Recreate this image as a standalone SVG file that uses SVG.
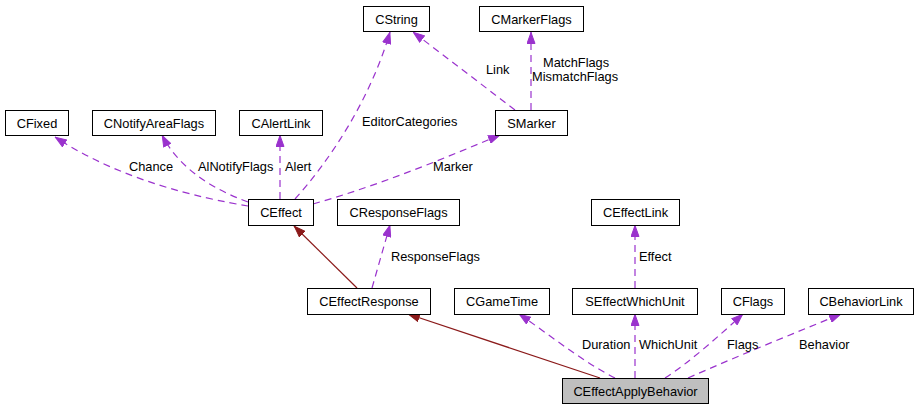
<svg xmlns="http://www.w3.org/2000/svg" width="918" height="409" viewBox="0 0 918 409">
<style>
text{font-family:"Liberation Sans",Arial,sans-serif;font-size:12.8px;fill:#000}
.n rect{fill:#fff;stroke:#000;stroke-width:1}
.n text{text-anchor:middle}
.root rect{fill:#bfbfbf}
.u{fill:none;stroke:#9a32cd;stroke-width:1.2;stroke-dasharray:7,5;marker-end:url(#pa)}
.i{fill:none;stroke:#8b1a1a;stroke-width:1.2;marker-end:url(#ra)}
</style>
<defs>
<marker id="pa" viewBox="0 0 12 9" refX="12" refY="4.5" markerWidth="12" markerHeight="9" markerUnits="userSpaceOnUse" orient="auto"><path d="M0.5,0.5 L11.5,4.5 L0.5,8.5 z" fill="#9a32cd" stroke="#9a32cd"/></marker>
<marker id="ra" viewBox="0 0 12 9" refX="12" refY="4.5" markerWidth="12" markerHeight="9" markerUnits="userSpaceOnUse" orient="auto"><path d="M0.5,0.5 L11.5,4.5 L0.5,8.5 z" fill="#8b1a1a" stroke="#8b1a1a"/></marker>
</defs>
<rect width="918" height="409" fill="#fff"/>
<g id="edges">
<path class="u" d="M248,206 C200,198 120,180 55,137"/>
<path class="u" d="M248,202 C215,190 180,170 162,135"/>
<path class="u" d="M280,199 L280,135"/>
<path class="u" d="M295,199 C330,160 370,100 390,32"/>
<path class="u" d="M313,204 C380,185 440,160 500,135"/>
<path class="u" d="M515,110 L413,32"/>
<path class="u" d="M531,110 L531,32"/>
<path class="u" d="M372,288 L390,225"/>
<path class="i" d="M357,288 L294,226"/>
<path class="i" d="M600,378 L408,314"/>
<path class="u" d="M615,378 C580,360 550,335 519,314"/>
<path class="u" d="M635,378 L635,314"/>
<path class="u" d="M635,288 L635,225"/>
<path class="u" d="M665,378 C690,362 720,335 743,314"/>
<path class="u" d="M688,378 C740,355 790,335 841,314"/>
<text x="129" y="171">Chance</text>
<text x="198" y="171">AlNotifyFlags</text>
<text x="285" y="171">Alert</text>
<text x="362" y="126">EditorCategories</text>
<text x="433" y="171">Marker</text>
<text x="486" y="74">Link</text>
<text x="543" y="67">MatchFlags</text>
<text x="532" y="81">MismatchFlags</text>
<text x="391" y="261">ResponseFlags</text>
<text x="639" y="261">Effect</text>
<text x="582" y="349">Duration</text>
<text x="639" y="349">WhichUnit</text>
<text x="727" y="349">Flags</text>
<text x="799" y="349">Behavior</text>
</g>
<g id="CString" class="n"><rect x="363.5" y="6.5" width="66" height="25"/><text x="396.5" y="23.5">CString</text></g>
<g id="CMarkerFlags" class="n"><rect x="479.5" y="6.5" width="104" height="25"/><text x="531.5" y="23.5">CMarkerFlags</text></g>
<g id="CFixed" class="n"><rect x="5.5" y="110.5" width="63" height="25"/><text x="37" y="127.5">CFixed</text></g>
<g id="CNotifyAreaFlags" class="n"><rect x="92.5" y="110.5" width="123" height="25"/><text x="154" y="127.5">CNotifyAreaFlags</text></g>
<g id="CAlertLink" class="n"><rect x="239.5" y="110.5" width="83" height="25"/><text x="281" y="127.5">CAlertLink</text></g>
<g id="SMarker" class="n"><rect x="495.5" y="110.5" width="72" height="25"/><text x="531.5" y="127.5">SMarker</text></g>
<g id="CEffect" class="n"><rect x="248.5" y="199.5" width="65" height="26"/><text x="281" y="217">CEffect</text></g>
<g id="CResponseFlags" class="n"><rect x="337.5" y="199.5" width="122" height="26"/><text x="398.5" y="217">CResponseFlags</text></g>
<g id="CEffectLink" class="n"><rect x="591.5" y="199.5" width="88" height="26"/><text x="635.5" y="217">CEffectLink</text></g>
<g id="CEffectResponse" class="n"><rect x="307.5" y="288.5" width="123" height="26"/><text x="369" y="306">CEffectResponse</text></g>
<g id="CGameTime" class="n"><rect x="454.5" y="288.5" width="95" height="26"/><text x="502" y="306">CGameTime</text></g>
<g id="SEffectWhichUnit" class="n"><rect x="572.5" y="288.5" width="125" height="26"/><text x="635" y="306">SEffectWhichUnit</text></g>
<g id="CFlags" class="n"><rect x="721.5" y="288.5" width="63" height="26"/><text x="753" y="306">CFlags</text></g>
<g id="CBehaviorLink" class="n"><rect x="808.5" y="288.5" width="105" height="26"/><text x="861" y="306">CBehaviorLink</text></g>
<g id="CEffectApplyBehavior" class="n root"><rect x="562.5" y="378.5" width="146" height="25"/><text x="635.5" y="395.5">CEffectApplyBehavior</text></g>
</svg>
